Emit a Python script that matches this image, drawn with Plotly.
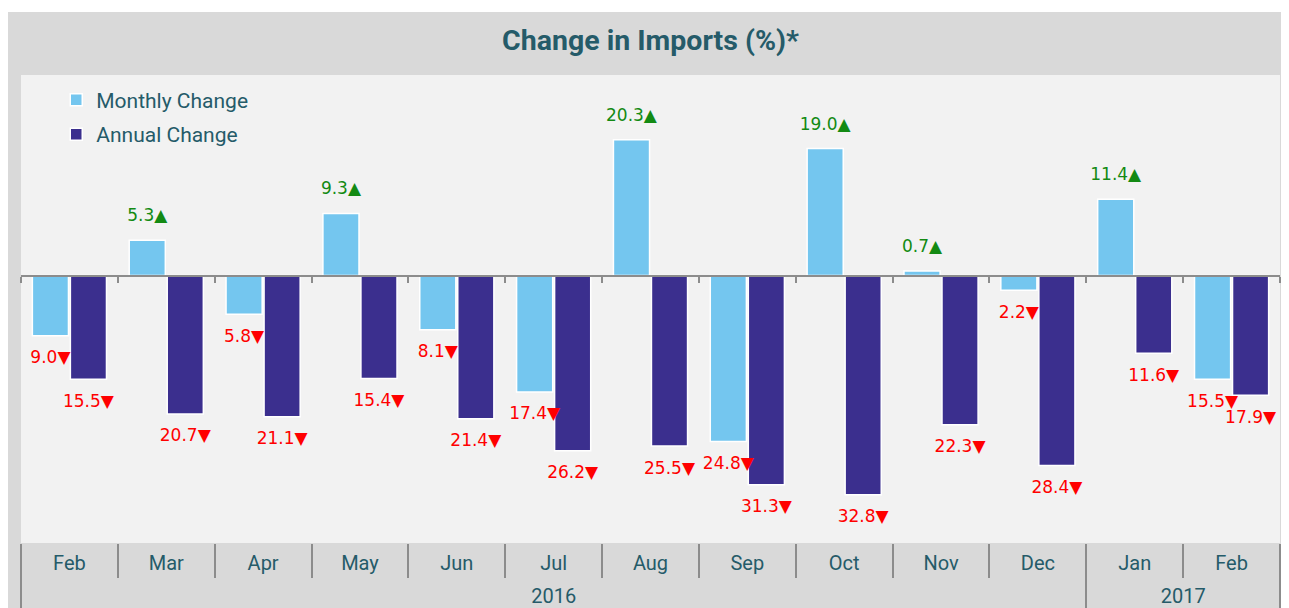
import plotly.graph_objects as go

# data
years = ["2016"] * 11 + ["2017"] * 2
months = ["Feb", "Mar", "Apr", "May", "Jun", "Jul", "Aug", "Sep", "Oct", "Nov", "Dec", "Jan", "Feb"]
monthly = [-9.0, 5.3, -5.8, 9.3, -8.1, -17.4, 20.3, -24.8, 19.0, 0.7, -2.2, 11.4, -15.5]
annual = [-15.5, -20.7, -21.1, -15.4, -21.4, -26.2, -25.5, -31.3, -32.8, -22.3, -28.4, -11.6, -17.9]

TEAL = "#255b69"
GREY_LINE = "#8c8c8c"
UP = "#138a13"
DOWN = "#ff0000"

W, H = 1281, 600
ML, MR, MT, MB = 13, 9, 67, 65
PW, PH = W - ML - MR, H - MT - MB

n = len(months)
idx = list(range(n))
xr = [-0.5, n - 0.5]

# year groups -> label centres and divider positions
groups = {}
for i, yr in enumerate(years):
    groups.setdefault(yr, []).append(i)
year_names = list(groups)
year_centers = [sum(v) / len(v) for v in groups.values()]
year_edges = [-0.5] + [max(v) + 0.5 for v in groups.values()]
month_edges = [i - 0.5 for i in range(n + 1)]


def labels(vals):
    text = [f"{abs(v):.1f}\u25B2" if v >= 0 else f"{abs(v):.1f}\u25BC" for v in vals]
    colors = [UP if v >= 0 else DOWN for v in vals]
    pos = ["top center" if v >= 0 else "bottom center" for v in vals]
    return text, colors, pos


fig = go.Figure()

for name, vals, color, grp in [
    ("Monthly Change", monthly, "#74c6ef", "m"),
    ("Annual Change", annual, "#3b2f8e", "a"),
]:
    fig.add_trace(go.Bar(
        x=idx, y=vals, name=name, offsetgroup=grp, legendgroup=grp,
        marker=dict(color=color, line=dict(color="white", width=1.5)),
        hoverinfo="skip",
    ))
    text, colors, pos = labels(vals)
    fig.add_trace(go.Scatter(
        x=idx, y=vals, mode="markers+text", offsetgroup=grp,
        text=text, textposition=pos,
        textfont=dict(family="DejaVu Sans", size=17, color=colors),
        marker=dict(size=22, color="rgba(0,0,0,0)"),
        showlegend=False, hoverinfo="skip", cliponaxis=False,
    ))

# empty traces so the overlay axes get drawn
for ax in ["x2", "x3", "x4", "x5"]:
    fig.add_trace(go.Scatter(x=[], y=[], xaxis=ax, showlegend=False, hoverinfo="skip"))

overlay = dict(overlaying="x", anchor="free", position=0, side="bottom", range=xr,
               showgrid=False, zeroline=False, showline=False, automargin=False)

fig.update_layout(
    width=W, height=H,
    margin=dict(l=ML, r=MR, t=MT, b=MB),
    paper_bgcolor="#d9d9d9",
    plot_bgcolor="#f2f2f2",
    barmode="group", bargap=0.215, bargroupgap=0.05,
    scattermode="group", scattergap=0.215,
    title=dict(
        text="<b>Change in Imports (%)*</b>",
        x=0.5, xref="paper", xanchor="center",
        y=1 - 32 / H, yanchor="middle",
        font=dict(family="Roboto", size=28.5, color=TEAL),
    ),
    legend=dict(
        x=0.028, y=0.99, xanchor="left", yanchor="top",
        bgcolor="rgba(0,0,0,0)", font=dict(family="Roboto", size=21, color=TEAL),
        traceorder="grouped", tracegroupgap=4, itemwidth=30,
    ),
    # month labels
    xaxis=dict(
        range=xr, tickvals=idx, ticktext=months, ticks="",
        tickfont=dict(family="Roboto", size=20, color=TEAL),
        ticklabelstandoff=6, automargin=False,
        showgrid=False, showline=False, zeroline=False,
    ),
    # zero line with boundary ticks
    xaxis2=dict(
        overlaying="x", anchor="free", position=40 / 70, side="bottom",
        range=xr, tickvals=month_edges,
        ticks="outside", ticklen=6, tickwidth=2, tickcolor=GREY_LINE,
        showline=True, linecolor=GREY_LINE, linewidth=2,
        showticklabels=False, showgrid=False, zeroline=False,
        layer="above traces", automargin=False,
    ),
    # month separators
    xaxis3=dict(**overlay, tickvals=month_edges, ticks="outside", ticklen=34,
                tickwidth=2, tickcolor=GREY_LINE, showticklabels=False),
    # year labels
    xaxis4=dict(**overlay, tickvals=year_centers, ticktext=year_names, ticks="",
                tickfont=dict(family="Roboto", size=20, color=TEAL),
                ticklabelstandoff=39),
    # year dividers
    xaxis5=dict(**overlay, tickvals=year_edges, ticks="outside", ticklen=MB,
                tickwidth=2, tickcolor=GREY_LINE, showticklabels=False),
    yaxis=dict(range=[-40, 30], visible=False),
    font=dict(family="Roboto", color=TEAL),
    shapes=[
        dict(type="rect", xref="paper", yref="paper", layer="below",
             x0=-ML / PW, x1=1 + MR / PW, y0=1 + (MT - 4) / PH, y1=1 + MT / PH,
             fillcolor="white", line=dict(width=0)),
    ],
)

fig.write_html("out.html")
